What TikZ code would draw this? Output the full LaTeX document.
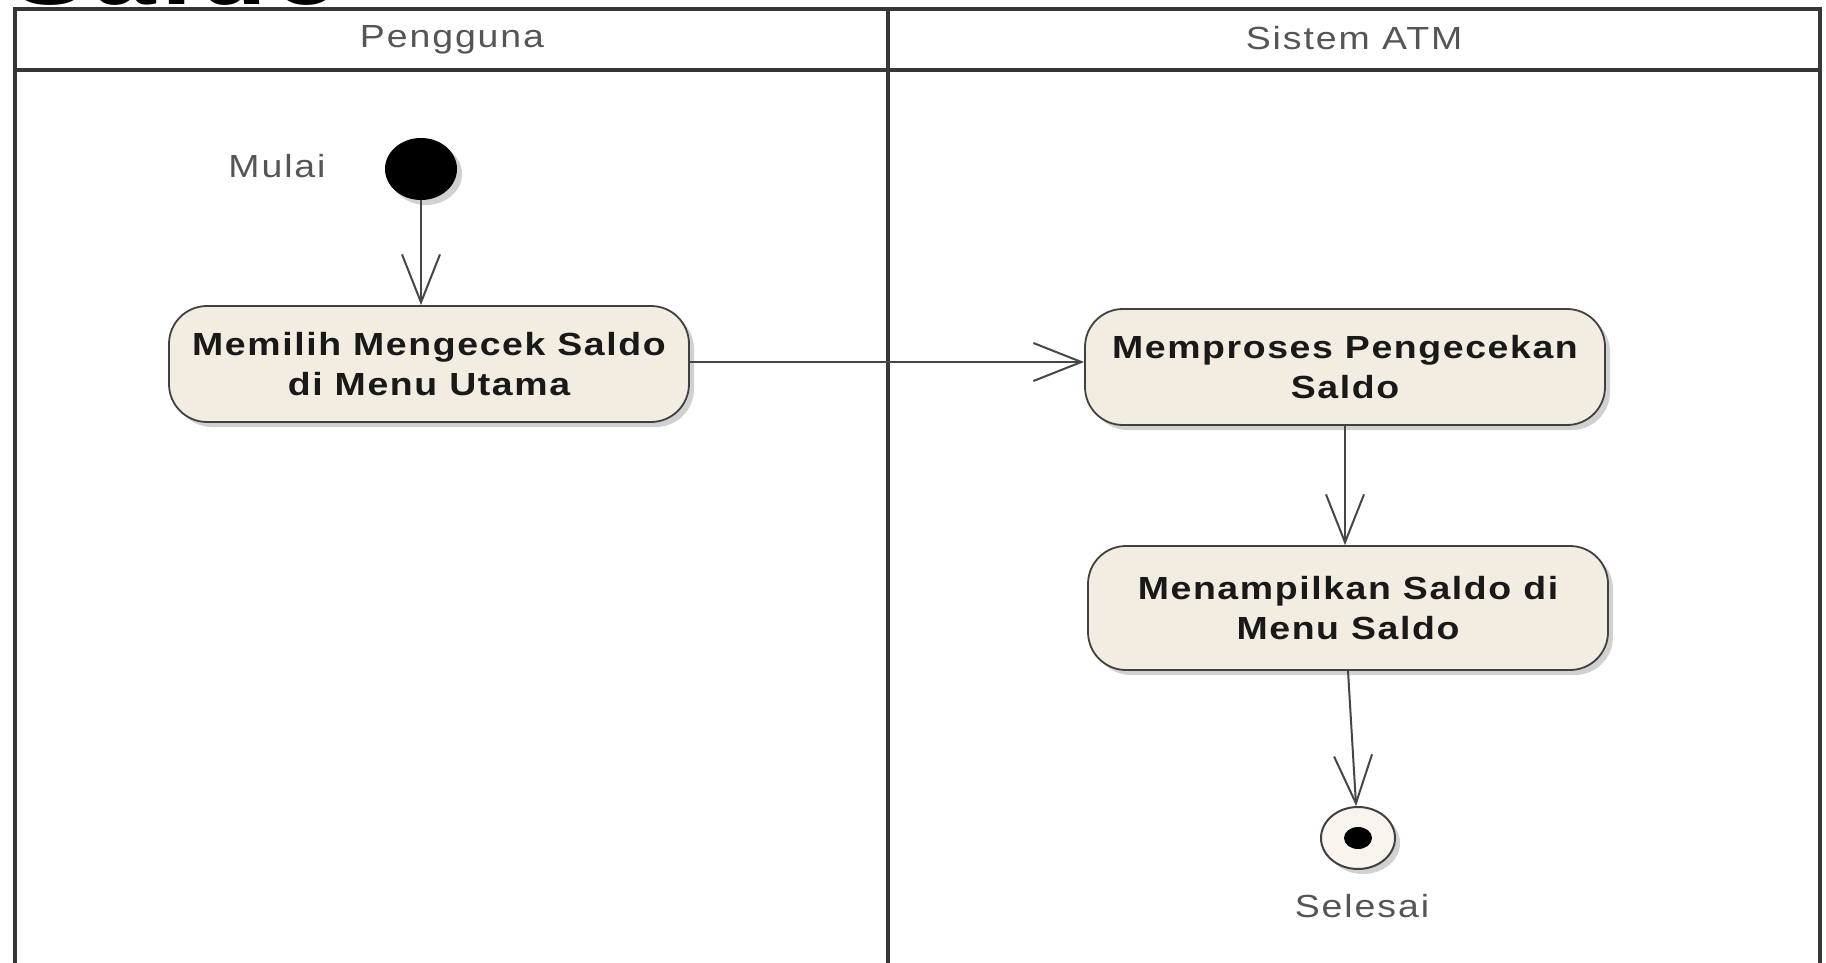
\documentclass[tikz,border=0pt]{standalone}
\usepackage{fontspec}
\setmainfont{Liberation Sans}[FakeStretch=1.17,LetterSpace=6]
\newfontfamily\actfont{Liberation Sans}[FakeStretch=1.17,LetterSpace=5]
\usepackage{tikz}
\usetikzlibrary{shapes.geometric, arrows.meta, positioning, calc, shadows}
\definecolor{actfill}{RGB}{243,236,225}
\definecolor{endfill}{RGB}{249,245,238}
\definecolor{lanecolor}{RGB}{55,55,55}
\definecolor{linecolor}{RGB}{70,70,70}
\definecolor{labelgray}{RGB}{85,85,85}

\begin{document}
\begin{tikzpicture}[
    x=0.5pt, y=-0.5pt,
    lane/.style={draw=lanecolor, line width=1.8pt},
    lanelabel/.style={font=\fontsize{16}{18}\selectfont, text=labelgray},
    shade/.style={drop shadow={shadow xshift=2.5pt, shadow yshift=-2.5pt, opacity=0.3, fill=black!60}},
    action/.style={draw=black!75, line width=0.9pt, rounded corners=19pt, fill=actfill, minimum width=260pt, minimum height=58pt, align=center, font=\actfont\bfseries\fontsize{16}{20}\selectfont, text=black!90, shade},
    startdot/.style={ellipse, fill=black, minimum width=36pt, minimum height=31pt, inner sep=0pt, shade},
    enddot/.style={ellipse, draw=black!75, line width=1pt, fill=endfill, minimum width=37pt, minimum height=31pt, inner sep=0pt, shade},
    arrow/.style={-{Straight Barb[length=24pt, width=19pt]}, line width=1pt, draw=linecolor}
]
    \useasboundingbox (0,0) rectangle (1826,963);

    % title, cut off at the top
    \node[anchor=base west, inner sep=0pt, font=\bfseries\fontsize{48}{50}\selectfont] (judul) at (12,5) {Saldo};

    % swimlanes
    \draw[lane] (15,963) |- (1820,9) -- (1820,963);
    \draw[lane] (15,70) -- (1820,70);
    \draw[lane] (888,9) -- (888,963);
    \node[lanelabel] (pengguna) at (452,40) {Pengguna};
    \node[lanelabel] (sistem) at (1354,38) {Sistem ATM};

    % activities
    \node[startdot] (mulai) at (421,169) {};
    \node[lanelabel] (mulaitext) at (277,166) {Mulai};
    \node[action] (pilih) at (429,364) {Memilih Mengecek Saldo\\di Menu Utama};
    \node[action] (proses) at (1345,367) {Memproses Pengecekan\\Saldo};
    \node[action, minimum height=62pt] (tampil) at (1348,608) {Menampilkan Saldo di\\Menu Saldo};
    \node[enddot] (selesai) at (1358,838) {};
    \node[ellipse, fill=black, minimum width=14pt, minimum height=11pt, inner sep=0pt] (selesaidot) at (selesai) {};
    \node[lanelabel] (selesaitext) at (1362,906) {Selesai};

    \draw[arrow] (mulai) -- (mulai |- pilih.north);
    \draw[arrow] (pilih.east |- 0,362) -- (proses.west |- 0,362);
    \draw[arrow] (proses) -- (proses |- tampil.north);
    \draw[arrow] (tampil.south) -- (selesai);
\end{tikzpicture}
\end{document}
